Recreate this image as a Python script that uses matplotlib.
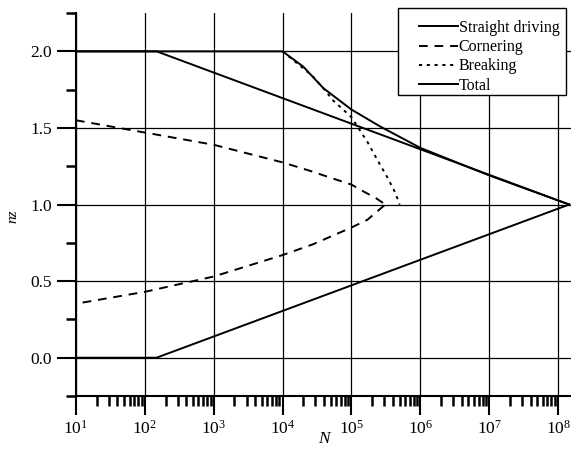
import matplotlib
matplotlib.use("Agg")
import matplotlib.pyplot as plt
from matplotlib.patches import Rectangle
from matplotlib.ticker import (FixedLocator, LogLocator, MultipleLocator, FormatStrFormatter,
                               LogFormatterMathtext, NullFormatter)

plt.rcParams['font.family'] = 'Liberation Serif'
plt.rcParams['mathtext.fontset'] = 'custom'
plt.rcParams['mathtext.rm'] = 'Liberation Serif'
plt.rcParams['mathtext.it'] = 'Liberation Serif:italic'

# straight driving (upper and lower branch)
sd_N = [10, 148, 1.45e8]
sd_top = [2.0, 2.0, 1.0]
sd_bot = [0.0, 0.0, 1.0]

# cornering
cor_top_N = [10, 1e2, 1e3, 1e4, 2.5e4, 4.6e4, 1e5, 1.5e5, 2.3e5, 3.1e5]
cor_top = [1.55, 1.47, 1.39, 1.275, 1.22, 1.18, 1.13, 1.085, 1.04, 1.0]
cor_bot_N = [12.5, 1e2, 1e3, 1e4, 2.75e4, 1e5, 1.7e5, 3.1e5]
cor_bot = [0.36, 0.43, 0.53, 0.67, 0.74, 0.85, 0.90, 1.0]

# breaking
br_N = [1e4, 2.7e4, 3.9e4, 5.4e4, 1e5, 1.3e5, 1.7e5, 2.6e5, 3.3e5, 4.3e5, 5e5]
br = [2.0, 1.84, 1.76, 1.68, 1.57, 1.49, 1.41, 1.26, 1.18, 1.08, 1.0]

# total
tot_N = [10, 1e4, 2e4, 3.9e4, 1e5, 2.6e5, 1e6, 1e7, 1.45e8]
tot = [2.0, 2.0, 1.90, 1.76, 1.62, 1.51, 1.37, 1.19, 1.0]

x_ticks = [1e1, 1e2, 1e3, 1e4, 1e5, 1e6, 1e7, 1e8]
y_ticks = [0.0, 0.5, 1.0, 1.5, 2.0]

fig = plt.figure(figsize=(5.71, 4.5), dpi=100)
ax = fig.add_axes([0.133, 0.12, 0.867, 0.851])

lw = 1.4
ax.plot(sd_N, sd_top, color='black', lw=lw, label='Straight driving')
ax.plot(sd_N, sd_bot, color='black', lw=lw)
ax.plot(cor_top_N, cor_top, color='black', lw=lw, ls=(0, (4.5, 3.5)), label='Cornering')
ax.plot(cor_bot_N, cor_bot, color='black', lw=lw, ls=(0, (4.5, 3.5)))
ax.plot(br_N, br, color='black', lw=lw, ls=(0, (1.6, 2.4)), label='Breaking')
ax.plot(tot_N, tot, color='black', lw=lw, label='Total')

ax.set_xscale('log')
ax.set_xlim(10, 1.54e8)
ax.set_ylim(-0.25, 2.25)

ax.xaxis.set_major_locator(FixedLocator(x_ticks))
ax.xaxis.set_minor_locator(LogLocator(base=10, subs=range(2, 10), numticks=12))
ax.xaxis.set_major_formatter(LogFormatterMathtext())
ax.xaxis.set_minor_formatter(NullFormatter())
ax.set_yticks(y_ticks)
ax.yaxis.set_minor_locator(MultipleLocator(0.25))
ax.yaxis.set_major_formatter(FormatStrFormatter('%.1f'))

ax.tick_params(which='major', direction='out', length=14, width=1.5, labelsize=12.5, pad=3)
ax.tick_params(which='minor', direction='out', length=7, width=1.8)

for s in ['top', 'right']:
    ax.spines[s].set_visible(False)
for s in ['left', 'bottom']:
    ax.spines[s].set_linewidth(1.5)

ax.grid(True, which='major', color='black', lw=0.9)

ax.set_xlabel('N', fontstyle='italic', fontsize=12.5, labelpad=-5)
ax.set_ylabel('nz', fontstyle='italic', fontsize=11)
ax.yaxis.set_label_coords(-0.115, 0.47)

# legend box drawn by hand (wider left margin than matplotlib gives)
box = Rectangle((398 / 571, 1 - 95 / 450), 168 / 571, 87 / 450, transform=fig.transFigure,
                facecolor='white', edgecolor='black', lw=1.0, zorder=5)
fig.patches.append(box)

leg = ax.legend(loc='upper right', bbox_to_anchor=(0.9915, 1.0005), fontsize=11.5,
                frameon=False, handlelength=2.45, handletextpad=0.05, labelspacing=0.2,
                borderpad=0.45, borderaxespad=0)
leg.set_zorder(6)
leg.set_in_layout(False)
fig.legends.append(ax.legend_)
ax.legend_ = None

fig.savefig('out.png', dpi=100)
